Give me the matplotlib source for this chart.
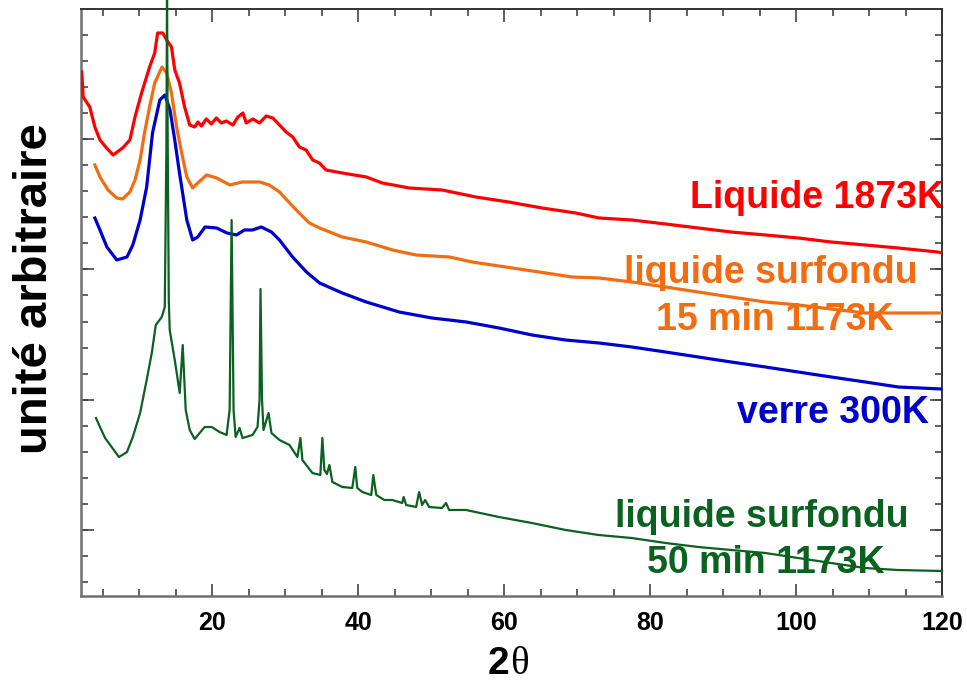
import numpy as np
import matplotlib
matplotlib.use("Agg")
import matplotlib.pyplot as plt
from matplotlib.ticker import FixedLocator, MultipleLocator, NullFormatter

plt.rcParams['font.family'] = ['Liberation Sans', 'DejaVu Sans']

# 2theta (deg) and intensity (arbitrary units)
red_x = [2.1, 2.3, 3.2, 3.9, 4.6, 5.5, 6.4, 7.7, 8.7, 9.4, 10.3, 11.4, 12.1, 12.5, 13.2,
         13.75, 14.4, 14.85, 15.5, 16.2, 16.9, 17.58, 18.03, 18.5, 19.18, 19.86, 20.55,
         21.23, 21.91, 22.82, 23.5, 24.19, 24.65, 25.55, 26.47, 27.38, 28.29, 29.2,
         30.11, 31.02, 31.93, 32.85, 33.75, 34.67, 35.58, 37.8, 41.1, 43.3, 47.0, 51.5,
         56.1, 60.6, 65.2, 69.8, 73.0, 77.5, 82.1, 86.6, 91.1, 95.8, 100.3, 104.8, 109.5,
         114.0, 119.4, 120.0]
red_y = [524, 499, 489, 469, 456, 448, 441, 448, 456, 479, 503, 529, 543, 563, 563,
         556, 549, 526, 513, 489, 471, 469, 474, 470, 477, 472, 478,
         473, 475, 471, 479, 483, 473, 477, 473, 480, 478, 471,
         464, 459, 449, 446, 436, 433, 426, 423, 419, 413, 408, 406,
         399, 394, 388, 383, 378, 376, 372, 368, 364, 361, 358, 354, 351,
         348, 344, 343]

orange_x = [3.9, 4.6, 5.7, 6.9, 7.7, 8.7, 9.4, 10.1, 10.7, 11.4, 12.1, 13.1, 13.75, 14.4,
            15.1, 15.8, 16.5, 17.3, 18.0, 19.2, 20.6, 22.4, 24.1, 26.5, 27.8, 29.2, 30.6,
            31.9, 33.3, 34.7, 37.8, 41.1, 44.7, 47.9, 52.5, 55.6, 60.2, 64.8, 69.3, 73.0,
            77.5, 82.1, 86.6, 91.1, 95.8, 100.3, 104.8, 109.5, 114.0, 120.0]
orange_y = [431, 419, 406, 398, 397, 404, 416, 436, 463, 489, 513, 529, 523, 503,
            469, 443, 419, 408, 413, 421, 418, 411, 414, 414, 411, 404, 393,
            383, 373, 368, 359, 354, 346, 341, 339, 334, 329, 324, 319, 318,
            314, 309, 304, 299, 294, 291, 287, 283, 283, 283]

blue_x = [3.9, 4.6, 5.55, 6.9, 8.3, 9.1, 10.1, 11.0, 11.8, 12.8, 13.5, 14.2, 14.85, 15.5,
          16.5, 17.3, 18.0, 19.0, 20.6, 22.0, 23.3, 24.4, 25.5, 26.7, 28.1, 29.2, 31.0,
          32.9, 34.7, 37.8, 41.1, 45.6, 50.1, 54.8, 59.3, 63.8, 68.4, 73.0, 77.5, 82.1,
          86.6, 91.1, 95.8, 100.3, 104.8, 109.5, 114.0, 120.0]
blue_y = [378, 366, 349, 336, 339, 351, 376, 409, 463, 496, 501, 486, 456, 423,
          376, 356, 359, 369, 368, 363, 361, 366, 366, 369, 364, 356, 339,
          324, 313, 303, 294, 284, 278, 274, 268, 261, 256, 253, 249, 244,
          239, 234, 229, 224, 219, 214, 209, 207]

green_x = [4.05, 4.6, 5.3, 6.0, 7.2, 8.3, 9.1, 10.1, 11.0, 11.7, 12.25, 13.07, 13.48, 13.70,
           13.79, 13.89, 14.03, 14.16, 14.85, 15.53, 15.94, 16.35, 16.9, 17.58, 18.95,
           19.9, 21.0, 21.95, 22.37, 22.64, 22.91, 23.19, 23.73, 24.14, 25.51, 26.19,
           26.47, 26.6, 26.81, 27.01, 27.7, 28.1, 29.2, 30.57, 31.66, 32.07, 32.34, 33.71,
           34.8, 35.08, 35.35, 35.7, 36.04, 36.45, 37.81, 39.18, 39.59, 39.86, 40.55,
           41.78, 42.06, 42.47, 43.56, 44.65, 46.02, 46.22, 46.56, 47.93, 48.34, 48.75,
           49.16, 49.71, 51.48, 52.03, 52.45, 54.77, 59.28, 63.79, 68.43, 72.95, 77.46,
           82.11, 86.62, 91.13, 95.78, 100.29, 104.8, 109.45, 113.96, 120.0]
green_y = [178, 169, 158, 151, 139, 144, 159, 183, 216, 243, 271, 279, 289, 446,
           606, 446, 296, 266, 236, 203, 251, 186, 166, 157, 169,
           169, 164, 161, 186, 376, 186, 159, 168, 158, 161, 169,
           196, 307, 196, 166, 183, 163, 156, 151, 139, 158, 136, 123,
           121, 158, 126, 122, 131, 114, 109, 108, 129, 108, 104,
           101, 121, 101, 96, 96, 93, 99, 91, 89, 104, 91,
           96, 89, 88, 93, 86, 86, 79, 73, 66, 61, 58,
           53, 49, 46, 43, 38, 33, 28, 26, 25]

labels = ["Liquide 1873K", "liquide surfondu", "15 min 1173K", "verre 300K",
          "liquide surfondu", "50 min 1173K"]

c_red = "#ff0000"
c_orange = "#f26c12"
c_blue = "#0000cc"
c_green = "#0b6120"

fig = plt.figure(figsize=(9.67, 6.84), dpi=100)
ax = fig.add_axes([81 / 967, 1 - 596 / 684, 861 / 967, 587 / 684])

ax.plot(red_x, red_y, color=c_red, lw=2.3, zorder=3)
ax.plot(orange_x, orange_y, color=c_orange, lw=2.3, zorder=3)
ax.plot(blue_x, blue_y, color=c_blue, lw=2.3, zorder=3)
ax.plot(green_x, green_y, color=c_green, lw=1.6, zorder=3, clip_on=False)

ax.set_xlim(2, 120)
ax.set_ylim(0, 587)

ax.xaxis.set_major_locator(FixedLocator([20, 40, 60, 80, 100, 120]))
ax.xaxis.set_minor_locator(MultipleLocator(5))
ax.yaxis.set_major_locator(FixedLocator(np.arange(66, 590, 130.3)))
ax.yaxis.set_minor_locator(FixedLocator(np.arange(13.9, 590, 26.06)))
ax.yaxis.set_major_formatter(NullFormatter())

ax.tick_params(which='both', direction='in', top=True, right=True,
               color='#444444', width=1.2)
ax.tick_params(which='major', length=9)
ax.tick_params(which='minor', length=5)
ax.tick_params(axis='x', which='major', labelsize=18, pad=11)
for lab in ax.get_xticklabels():
    lab.set_fontweight('bold')

for side in ['left', 'bottom']:
    ax.spines[side].set_color('#707070')
    ax.spines[side].set_linewidth(1.8)
for side in ['right', 'top']:
    ax.spines[side].set_color('#333333')
    ax.spines[side].set_linewidth(1.4)

tf = fig.transFigure
def label(txt, xc, ybase, col):
    ax.text(xc / 967, 1 - ybase / 684, txt, transform=tf, color=col,
            fontsize=27, fontweight='bold', ha='center', va='baseline', zorder=1)

label(labels[0], 817, 208, c_red)
label(labels[1], 771, 283, c_orange)
label(labels[2], 775, 330, c_orange)
label(labels[3], 833, 423, c_blue)
label(labels[4], 762, 527, c_green)
label(labels[5], 766, 573, c_green)

fig.text(35 / 967, 1 - 289 / 684, "unité arbitraire", rotation=90, fontsize=34,
         fontweight='bold', ha='center', va='center')
fig.text(509 / 967, 1 - 674 / 684, "2", fontsize=28, fontweight='bold',
         ha='right', va='baseline')
fig.text(510 / 967, 1 - 674 / 684, "θ", fontsize=28, family='Liberation Serif',
         ha='left', va='baseline')

fig.savefig("out.png", dpi=100)
